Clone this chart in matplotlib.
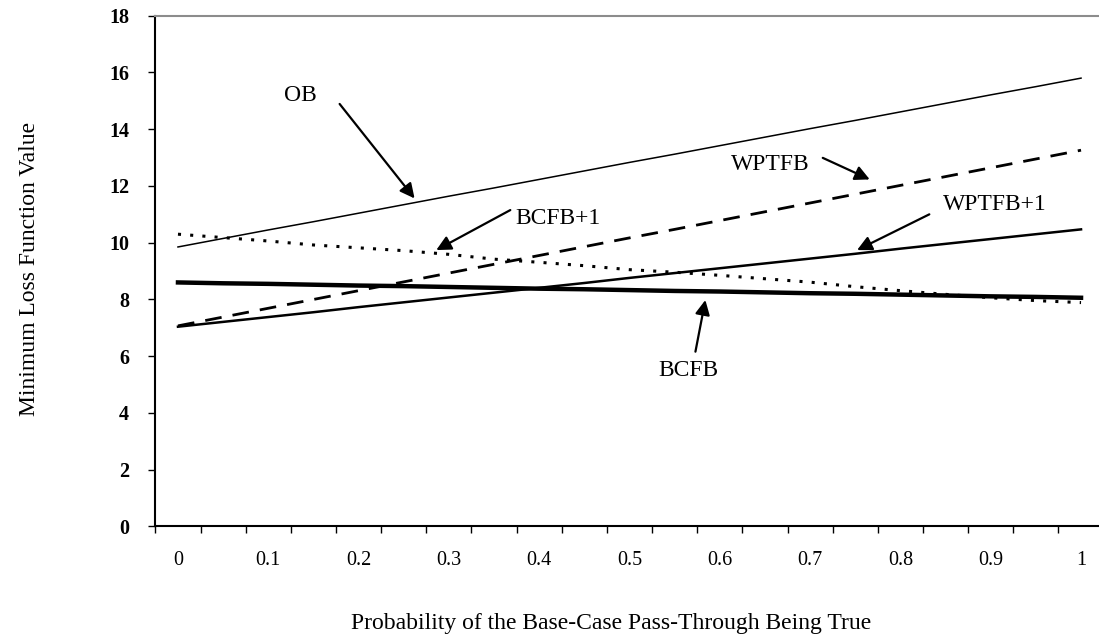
import numpy as np
import matplotlib
matplotlib.use('Agg')
import matplotlib.pyplot as plt

plt.rcParams['font.family'] = ['Liberation Serif', 'DejaVu Serif']

# probability of the base-case pass-through being true (21 categories)
prob = [0, 0.05, 0.1, 0.15, 0.2, 0.25, 0.3, 0.35, 0.4, 0.45, 0.5,
        0.55, 0.6, 0.65, 0.7, 0.75, 0.8, 0.85, 0.9, 0.95, 1.0]
xlabels = ['0', '0.1', '0.2', '0.3', '0.4', '0.5', '0.6', '0.7', '0.8', '0.9', '1']

ob = [9.85, 10.15, 10.45, 10.74, 11.04, 11.34, 11.64, 11.93, 12.23, 12.53, 12.83,
      13.12, 13.42, 13.72, 14.02, 14.31, 14.61, 14.91, 15.21, 15.50, 15.80]
wptfb = [7.07, 7.38, 7.69, 8.00, 8.31, 8.62, 8.93, 9.24, 9.55, 9.86, 10.17,
         10.47, 10.78, 11.09, 11.40, 11.71, 12.02, 12.33, 12.64, 12.95, 13.26]
wptfb1 = [7.04, 7.21, 7.38, 7.55, 7.73, 7.90, 8.07, 8.24, 8.41, 8.58, 8.76,
          8.93, 9.10, 9.27, 9.44, 9.61, 9.79, 9.96, 10.13, 10.30, 10.47]
bcfb = [8.60, 8.57, 8.55, 8.52, 8.49, 8.47, 8.44, 8.41, 8.38, 8.36, 8.33,
        8.30, 8.28, 8.25, 8.22, 8.20, 8.17, 8.14, 8.11, 8.09, 8.06]
bcfb1 = [10.30, 10.18, 10.06, 9.92, 9.82, 9.72, 9.59, 9.42, 9.31, 9.19, 9.05,
         8.96, 8.85, 8.73, 8.61, 8.45, 8.31, 8.18, 8.06, 7.96, 7.89]

# label text, text position, arrow start, arrow tip
labels = ['OB', 'BCFB+1', 'WPTFB', 'WPTFB+1', 'BCFB']
text_xy = [(0.135, 15.2), (0.421, 10.87), (0.656, 12.74), (0.904, 11.33), (0.565, 5.51)]
arrow_from = [(0.179, 14.89), (0.368, 11.15), (0.714, 12.99), (0.832, 11.0), (0.573, 6.16)]
arrow_to = [(0.262, 11.56), (0.286, 9.74), (0.766, 12.23), (0.752, 9.74), (0.584, 7.98)]

fs = 17

fig = plt.figure(figsize=(10.99, 6.38), dpi=100)
ax = fig.add_axes([0.1414, 0.1748, 0.8628, 0.8006])

ax.plot(prob, ob, color='k', lw=1.1)
ax.plot(prob, wptfb, color='k', lw=2.0, linestyle=(0, (6, 4)))
ax.plot(prob, wptfb1, color='k', lw=1.8)
ax.plot(prob, bcfb1, color='k', lw=2.2, linestyle=(0, (1, 3)))
ax.plot(prob, bcfb, color='k', lw=3.2)

for lab, t, a, b in zip(labels, text_xy, arrow_from, arrow_to):
    ax.text(t[0], t[1], lab, fontsize=fs, ha='center', va='center')
    ax.annotate('', xy=b, xytext=a,
                arrowprops=dict(arrowstyle='-|>', color='k', lw=1.6,
                                mutation_scale=22, shrinkA=0, shrinkB=0))

ax.set_xlim(-0.025, 1.025)
ax.set_ylim(0, 18)
ax.set_yticks(np.arange(0, 19, 2))
ax.set_yticklabels([str(v) for v in range(0, 19, 2)], fontsize=14.5, fontweight='bold')
ax.set_xticks(np.linspace(0, 1, 11))
ax.set_xticklabels(xlabels, fontsize=14.5)
ax.set_xticks(np.arange(-0.025, 1.03, 0.05), minor=True)
ax.tick_params(axis='x', which='major', length=0, pad=18)
ax.tick_params(axis='x', which='minor', length=5, width=1, direction='out')
ax.tick_params(axis='y', length=5, width=1, direction='out', pad=14)

for s in ['left', 'bottom']:
    ax.spines[s].set_linewidth(1.5)
ax.spines['top'].set_color('0.55')
ax.spines['top'].set_linewidth(1.5)
ax.spines['top'].set_linestyle((0, (2, 1)))
ax.spines['right'].set_visible(False)

fig.text(0.027, 0.579, 'Minimum Loss Function Value', rotation=90,
         fontsize=fs, ha='center', va='center')
fig.text(0.556, 0.0235, 'Probability of the Base-Case Pass-Through Being True',
         fontsize=fs, ha='center', va='center')

fig.savefig('out.png', dpi=100)
